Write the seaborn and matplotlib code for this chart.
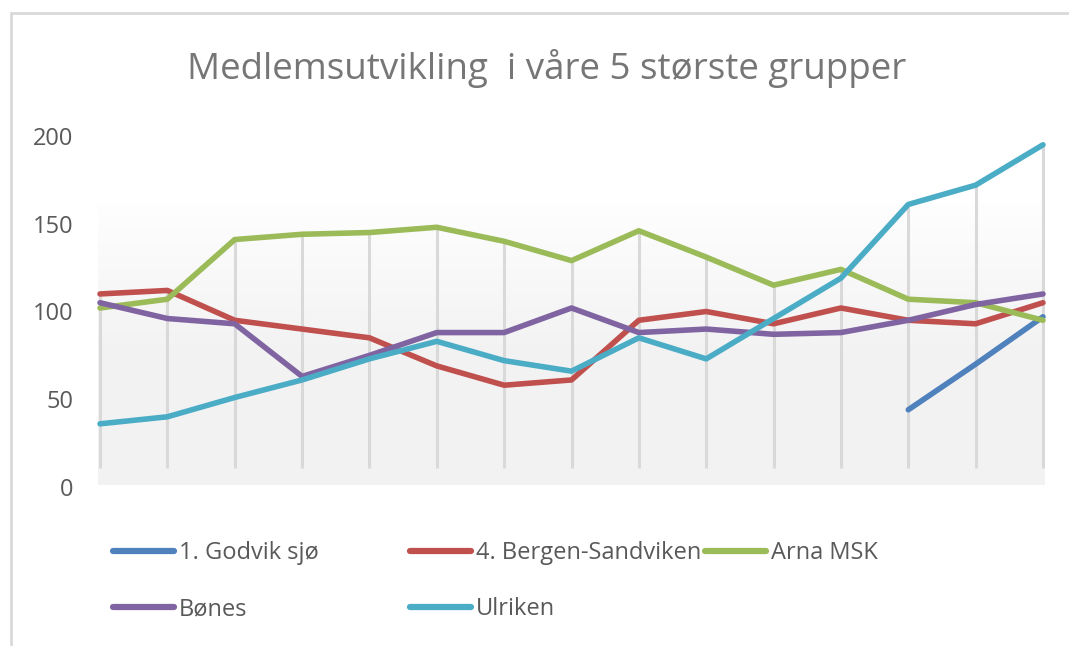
import numpy as np
import pandas as pd
import seaborn as sns
import matplotlib.pyplot as plt
from matplotlib.lines import Line2D
from matplotlib.patches import Rectangle
from matplotlib.colors import LinearSegmentedColormap

# Data lest av fra figuren (15 tidspunkt, uten x-etiketter)
punkt = list(range(15))
godvik = [np.nan] * 12 + [44, 70, 97]
bergen_sandviken = [110, 112, 95, 90, 85, 69, 58, 61, 95, 100, 93, 102, 95, 93, 105]
arna = [102, 107, 141, 144, 145, 148, 140, 129, 146, 131, 115, 124, 107, 105, 95]
bones = [105, 96, 93, 63, 75, 88, 88, 102, 88, 90, 87, 88, 95, 104, 110]
ulriken = [36, 40, 51, 61, 73, 83, 72, 66, 85, 73, 96, 119, 161, 172, 195]

grupper = ['1. Godvik sjø', '4. Bergen-Sandviken', 'Arna MSK', 'Bønes', 'Ulriken']
farger = ['#4f81bd', '#c0504d', '#9bbb59', '#8064a2', '#4bacc6']
y_ticks = [0, 50, 100, 150, 200]

wide = pd.DataFrame({'punkt': punkt, grupper[0]: godvik, grupper[1]: bergen_sandviken,
                     grupper[2]: arna, grupper[3]: bones, grupper[4]: ulriken})
df = wide.melt(id_vars='punkt', var_name='Gruppe', value_name='Medlemmer').dropna()

sns.set_style('white')
plt.rcParams['font.family'] = ['Open Sans', 'DejaVu Sans']

W, H = 1069, 646
fig = plt.figure(figsize=(W / 100, H / 100), dpi=100)
ax = fig.add_axes([98 / W, 1 - 487 / H, 947 / W, 351 / H])
ax.set_facecolor('none')

dx = 2 * 14 / 943
ax.set_xlim(-dx, 14 + dx)
ax.set_ylim(0, 200)

# bakgrunn med svak gradient
cmap = LinearSegmentedColormap.from_list('bg', ['#f2f2f2', '#f3f3f3', '#fefefe'], N=256)
grad = np.linspace(0, 1, 256).reshape(-1, 1)
ax.imshow(grad, cmap=cmap, origin='lower', aspect='auto', interpolation='bilinear',
          extent=(-dx, 14 + dx, 1, 161), zorder=0)

# loddrette linjer ned fra høyeste verdi
topp = wide[grupper].max(axis=1)
ax.vlines(wide['punkt'], 10.8, topp, colors='#d9d9d9', linewidth=2.2, zorder=1)

sns.lineplot(data=df, x='punkt', y='Medlemmer', hue='Gruppe', hue_order=grupper,
             palette=farger, linewidth=4, errorbar=None, legend=False, ax=ax, zorder=3)
for ln in ax.lines:
    ln.set_solid_capstyle('round')
    ln.set_solid_joinstyle('round')
    ln.set_clip_on(False)

sns.despine(ax=ax, left=True, bottom=True)
ax.set_xticks([])
ax.set_yticks(y_ticks)
ax.tick_params(axis='y', length=0, pad=18, labelsize=17, labelcolor='#595959')
ax.set_xlabel('')
ax.set_ylabel('')

fig.text(547 / W, 1 - 68 / H, 'Medlemsutvikling  i våre 5 største grupper',
         ha='center', va='center', fontsize=26.5, color='#767676')

# tegnforklaring, en boks per oppføring
pos = [(113, 553), (410, 553), (705, 553), (113, 609), (410, 609)]
for navn, farge, (px, py) in zip(grupper, farger, pos):
    h = Line2D([], [], color=farge, linewidth=4.5, solid_capstyle='round')
    leg = fig.legend([h], [navn], loc='center left', bbox_to_anchor=(px / W, 1 - py / H),
                     frameon=False, borderpad=0, borderaxespad=0, fontsize=17,
                     handlelength=2.6, handletextpad=0.2)
    for t in leg.get_texts():
        t.set_color('#595959')

# ramme (kuttet til høyre og nede)
fig.patches.append(Rectangle((11 / W, -0.1), 1.2, 1 - 13 / H + 0.1, transform=fig.transFigure,
                             fill=False, edgecolor='#d9d9d9', linewidth=2))

fig.savefig('out.png', dpi=100)
